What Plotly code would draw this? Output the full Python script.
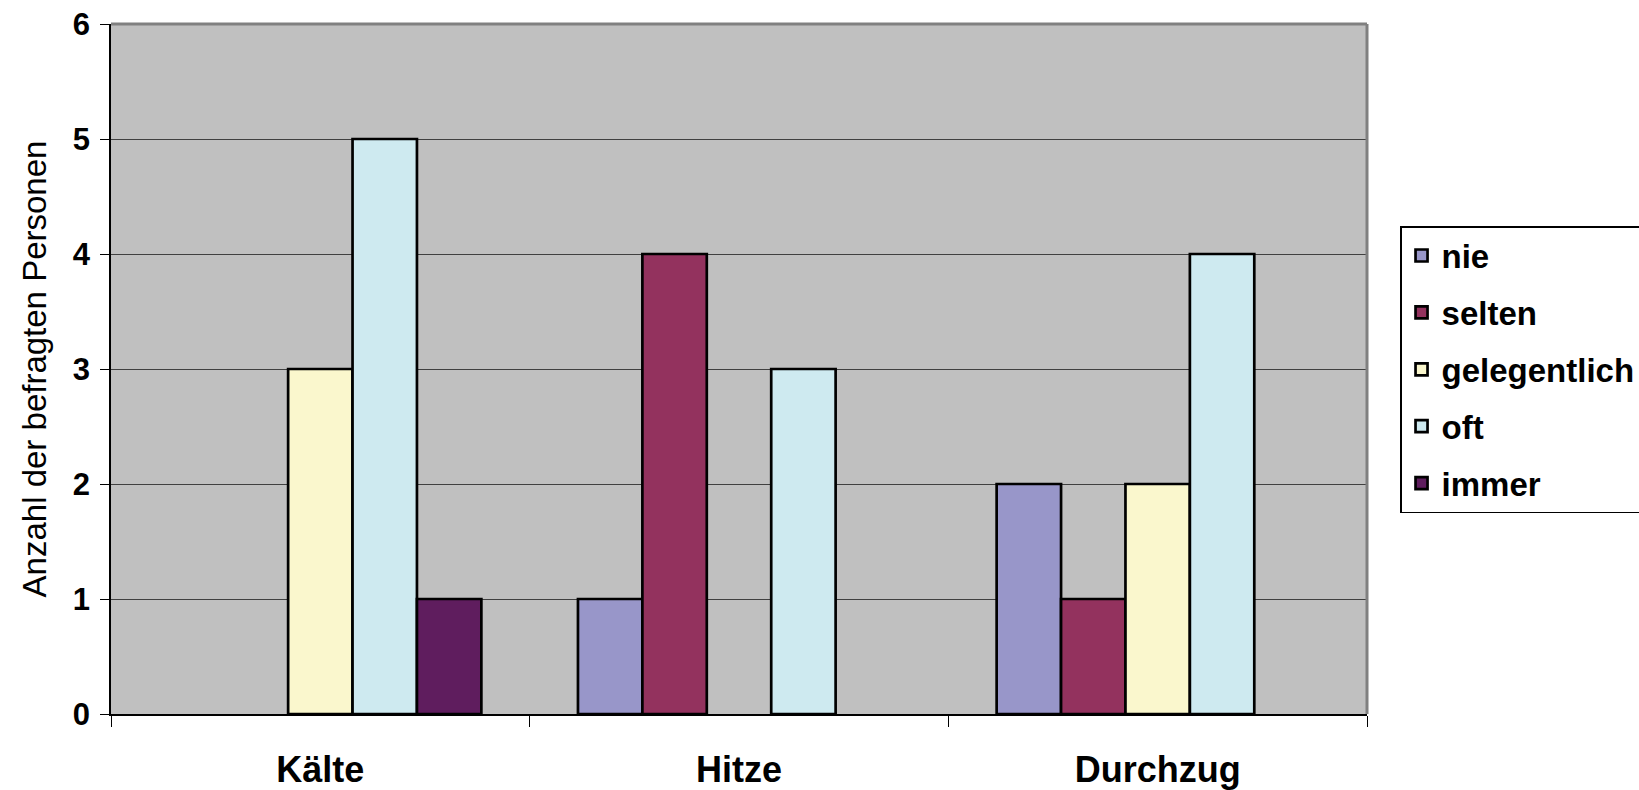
import plotly.graph_objects as go

# Survey: how often respondents are bothered by cold, heat and draught
categories = ["Kälte", "Hitze", "Durchzug"]
series_names = ["nie", "selten", "gelegentlich", "oft", "immer"]
nie = [0, 1, 2]
selten = [0, 4, 1]
gelegentlich = [3, 0, 2]
oft = [5, 3, 4]
immer = [1, 0, 0]
series_values = [nie, selten, gelegentlich, oft, immer]
colors = ["#9896C9", "#93325E", "#FAF7CD", "#CEEAF0", "#5F1D5E"]
y_ticks = [0, 1, 2, 3, 4, 5, 6]

FONT = "Liberation Sans, Arial, sans-serif"

fig = go.Figure()
for i, (name, vals, col) in enumerate(zip(series_names, series_values, colors)):
    fig.add_trace(go.Bar(
        name=name,
        x=categories,
        # empty (zero) answers draw no bar at all
        y=[v if v else None for v in vals],
        marker=dict(color=col, line=dict(color="black", width=2.7)),
        legendgroup=f"g{i}",
        hoverinfo="x+y+name",
    ))

fig.update_layout(
    width=1639,
    height=790,
    barmode="group",
    bargap=1.5 / 6.5,
    bargroupgap=0,
    paper_bgcolor="white",
    plot_bgcolor="#C0C0C0",
    margin=dict(l=111, r=272, t=24, b=76, autoexpand=False),
    font=dict(family=FONT, color="black"),
    showlegend=True,
    legend=dict(
        x=1.0263,
        xanchor="left",
        y=0.7072,
        yanchor="top",
        bgcolor="white",
        bordercolor="black",
        borderwidth=1.5,
        font=dict(family=FONT, size=33, color="black", weight="bold"),
        tracegroupgap=11,
        traceorder="grouped",
    ),
    xaxis=dict(
        type="category",
        showline=True,
        linecolor="black",
        linewidth=1.5,
        ticks="outside",
        tickson="boundaries",
        ticklen=11,
        tickcolor="black",
        tickwidth=1,
        showgrid=False,
        tickfont=dict(family=FONT, size=36, color="black", weight="bold"),
        ticklabelstandoff=23,
    ),
    yaxis=dict(
        range=[0, 6],
        tickvals=y_ticks,
        showline=True,
        linecolor="black",
        linewidth=1.5,
        ticks="outside",
        ticklen=9,
        tickcolor="black",
        tickwidth=1,
        showgrid=True,
        gridcolor="#404040",
        gridwidth=1,
        zeroline=False,
        tickfont=dict(family=FONT, size=31, color="black", weight="bold"),
        ticklabelstandoff=4,
        title=dict(
            text="Anzahl der befragten Personen",
            font=dict(family=FONT, size=33, color="black"),
            standoff=16,
        ),
    ),
    shapes=[
        dict(type="line", xref="paper", yref="paper", x0=0, x1=1, y0=1, y1=1,
             line=dict(color="#808080", width=3), layer="above"),
        dict(type="line", xref="paper", yref="paper", x0=1, x1=1, y0=0, y1=1,
             line=dict(color="#808080", width=3), layer="above"),
    ],
)

fig.write_html("out.html")
